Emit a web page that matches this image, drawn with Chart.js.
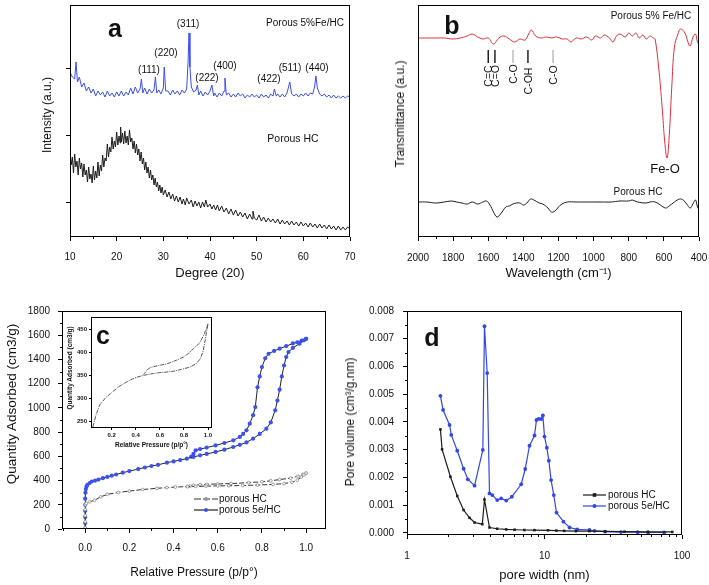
<!DOCTYPE html>
<html>
<head>
<meta charset="utf-8">
<script src="https://cdn.jsdelivr.net/npm/chart.js@4.4.1/dist/chart.umd.min.js"></script>
<style>
  body { margin: 0; background: #fff; width: 709px; height: 585px; position: relative; overflow: hidden;
         font-family: "Liberation Sans", Arial, sans-serif; color: #111; }
  canvas { position: absolute; }
  .t { position: absolute; transform: translate(-50%, -50%); white-space: nowrap; line-height: 1; font-size: 10px; }
  .r { transform: translate(-50%, -50%) rotate(-90deg); }
  .l { transform: translate(0, -50%); }
  .big { font-size: 25px; font-weight: bold; }
</style>
</head>
<body>
<canvas id="ca" style="left:0;top:0" width="360" height="290"></canvas>
<canvas id="cb" style="left:360px;top:0" width="349" height="290"></canvas>
<canvas id="cc" style="left:0;top:290px" width="355" height="295"></canvas>
<canvas id="cd" style="left:355px;top:290px" width="354" height="295"></canvas>
<canvas id="ci" style="left:65px;top:312px" width="152" height="140"></canvas>

<!-- panel a -->
<div class="t big" style="left:115px;top:28px">a</div>
<div class="t" style="left:305px;top:23px">Porous 5%Fe/HC</div>
<div class="t" style="left:188px;top:24px">(311)</div>
<div class="t" style="left:166px;top:53px">(220)</div>
<div class="t" style="left:149px;top:70px">(111)</div>
<div class="t" style="left:207px;top:78px">(222)</div>
<div class="t" style="left:225px;top:66px">(400)</div>
<div class="t" style="left:269px;top:79px">(422)</div>
<div class="t" style="left:290px;top:68px">(511)</div>
<div class="t" style="left:317px;top:68px">(440)</div>
<div class="t" style="left:293px;top:138px;font-size:10.5px">Porous HC</div>
<div class="t r" style="left:47px;top:115px;font-size:12px">Intensity (a.u.)</div>

<!-- panel b -->
<div class="t big" style="left:452px;top:25px">b</div>
<div class="t" style="left:651px;top:16px">Porous 5% Fe/HC</div>
<div class="t" style="left:665px;top:168px;font-size:13px">Fe-O</div>
<div class="t" style="left:638px;top:192px">Porous HC</div>
<div class="t r" style="left:488px;top:76px;font-size:10.5px">C=C</div>
<div class="t r" style="left:495px;top:76px;font-size:10.5px">C=O</div>
<div class="t r" style="left:513px;top:74px;font-size:10.5px">C-O</div>
<div class="t r" style="left:528px;top:81px;font-size:10.5px">C-OH</div>
<div class="t r" style="left:553px;top:75px;font-size:10.5px">C-O</div>
<div class="t r" style="left:400px;top:114px;font-size:12px">Transmittance (a.u.)</div>

<!-- panel c -->
<div class="t big" style="left:103px;top:335px">c</div>
<div class="t r" style="left:12px;top:404px;font-size:13.5px">Quantity Adsorbed (cm3/g)</div>
<div class="t r" style="left:70px;top:368px;font-size:6.5px;font-weight:bold">Quantity Adsorbed (cm3/g)</div>
<div class="t l" style="left:219px;top:499px">porous HC</div>
<div class="t l" style="left:219px;top:510px">porous 5e/HC</div>

<!-- panel d -->
<div class="t big" style="left:432px;top:337px">d</div>
<div class="t r" style="left:350px;top:422px;font-size:12px">Pore volume (cm³/g.nm)</div>
<div class="t l" style="left:608px;top:495px">porous HC</div>
<div class="t l" style="left:608px;top:506px">porous 5e/HC</div>

<script>
// ---------- data ----------
// (a) XRD, [2theta, intensity a.u.]
const xrdFeHC = [[10,165],[10.5,160],[11,158],[11.3,175],[11.6,155],[12,160],[12.5,150],[13,154],[13.5,146],[14,150],
  [14.5,144],[15,148],[15.5,141],[16,146],[16.5,142],[17,145],[17.5,140],[18,146],[18.5,141],[19,144],[19.5,140],
  [20,145],[20.5,141],[21,146],[21.5,141],[22,145],[22.5,142],[23,149],[23.5,143],[24,150],[24.5,144],[25,148],
  [25.3,158],[25.6,144],[26,149],[26.5,143],[27,148],[27.5,144],[28,147],[28.3,160],[28.6,144],[29,147],[29.5,143],
  [30,149],[30.2,170],[30.5,146],[31,146],[31.5,142],[32,147],[32.5,143],[33,146],[33.5,142],[34,147],[34.5,144],
  [35,148],[35.3,175],[35.5,204],[35.7,170],[36,150],[36.5,145],[37,147],[37.3,152],[37.6,142],[38,146],[38.5,141],
  [39,145],[39.5,142],[40,146],[40.4,152],[40.8,141],[41,144],[41.5,140],[42,144],[42.5,141],[43,146],[43.2,159],
  [43.5,142],[44,144],[44.5,140],[45,143],[45.5,140],[46,144],[46.5,141],[47,143],[47.5,139],[48,142],[48.5,140],
  [49,143],[49.5,140],[50,142],[50.5,139],[51,143],[51.5,140],[52,142],[52.5,139],[53,143],[53.5,141],[53.8,148],
  [54.2,141],[54.5,143],[55,140],[55.5,143],[56,140],[56.5,144],[57.1,155],[57.5,143],[58,141],[58.5,143],[59,140],
  [59.5,143],[60,141],[60.5,144],[61,141],[61.5,144],[62,143],[62.4,150],[62.7,161],[63,149],[63.5,143],[64,141],
  [64.5,143],[65,140],[65.5,142],[66,139],[66.5,142],[67,139],[67.5,141],[68,139],[68.5,141],[69,139],[69.5,141],[70,140]];
const xrdHC = [[10,85],[10.25,72],[10.5,80],[10.75,64],[11,83],[11.25,70],[11.5,76],[11.75,62],[12,79],[12.25,68],
  [12.5,74],[12.75,60],[13,73],[13.25,62],[13.5,67],[13.75,55],[14,70],[14.25,58],[14.5,63],[14.75,54],[15,71],
  [15.25,57],[15.5,66],[15.75,59],[16,75],[16.25,61],[16.5,72],[16.75,66],[17,82],[17.25,70],[17.5,79],[17.75,76],
  [18,93],[18.25,80],[18.5,90],[18.75,85],[19,100],[19.25,88],[19.5,96],[19.75,90],[20,105],[20.25,92],[20.5,101],
  [20.75,94],[20.85,110],[21,95],[21.25,104],[21.5,93],[21.75,106],[22,94],[22.25,101],[22.5,92],[22.75,107],[23,95],
  [23.25,99],[23.5,88],[23.75,96],[24,84],[24.25,93],[24.5,82],[24.75,88],[25,76],[25.25,85],[25.5,73],[25.75,79],
  [26,67],[26.25,75],[26.5,64],[26.75,70],[27,59],[27.25,67],[27.5,57],[27.75,62],[28,52],[28.25,59],[28.5,50],
  [28.75,55],[29,46],[29.25,52],[29.5,44],[29.75,50],[30,42],[30.4,47],[30.8,40],[31.2,45],[31.6,38],[32,43],
  [32.4,36],[32.8,41],[33.2,35],[33.6,40],[34,33],[34.3,38],[34.7,32],[35,39],[35.5,33],[36,37],[36.4,30],[36.8,36],
  [37.2,31],[37.6,35],[38,29],[38.4,35],[38.8,30],[39.1,37],[39.5,30],[40,33],[40.4,28],[40.8,32],[41.2,27],[41.6,32],
  [42,26],[42.5,31],[43,25],[43.5,29],[44,23],[44.5,28],[45,22],[45.5,27],[46,21],[46.5,25],[47,20],[47.5,24],[48,18],
  [48.5,23],[49,18],[49.2,26],[49.5,19],[50,17],[50.5,22],[51,16],[51.5,20],[52,15],[52.5,19],[53,15],[53.5,18],
  [54,14],[54.5,18],[55,13],[55.5,17],[56,13],[56.5,16],[57,12],[57.5,16],[58,12],[58.5,15],[59,11],[59.5,15],
  [60,11],[60.5,14],[61,10],[61.5,14],[62,10],[62.5,13],[63,9],[63.5,13],[64,9],[64.5,12],[65,8],[65.5,12],[66,8],
  [66.5,11],[67,7],[67.5,11],[68,7],[68.5,10],[69,7],[69.5,10],[70,8]];
const xrdTicks = [10, 20, 30, 40, 50, 60, 70];
const xrdMinor = [15, 25, 35, 45, 55, 65];
const xrdLevelTicks = [35, 102, 169];

// (b) FTIR, [wavenumber, transmittance a.u.]
const ftirFeHC = [[2000,199],[1950,199],[1900,199],[1850,199],[1800,198],[1760,199],[1720,201],[1690,203],[1660,200],
  [1630,198],[1600,199],[1570,193],[1540,199],[1510,201],[1480,198],[1450,195],[1420,198],[1390,197],[1370,203],
  [1355,207],[1330,201],[1300,199],[1270,200],[1240,199],[1210,200],[1180,198],[1150,198],[1130,195],[1100,199],
  [1070,198],[1040,200],[1010,197],[990,201],[960,199],[940,202],[910,199],[890,195],[870,201],[850,203],[820,200],
  [800,204],[780,201],[760,204],[740,199],[720,202],[700,198],[680,201],[660,199],[650,198],[630,170],[610,130],
  [595,95],[582,79],[570,100],[555,150],[540,190],[520,203],[505,208],[480,204],[465,196],[451,191],[434,200],
  [420,203],[410,196],[400,192]];
const ftirHC = [[2000,35],[1950,35],[1900,34],[1850,35],[1810,36],[1780,35],[1750,34],[1720,33],[1690,35],[1660,33],
  [1630,35],[1610,36],[1590,32],[1570,25],[1550,20],[1530,23],[1500,30],[1480,31],[1460,33],[1440,34],[1420,34],
  [1400,32],[1380,34],[1360,38],[1340,37],[1310,34],[1290,33],[1260,29],[1240,25],[1220,26],[1200,30],[1180,33],
  [1150,35],[1100,35],[1050,35],[1000,35],[950,35],[900,35],[850,36],[800,36],[780,37],[750,35],[700,34],[680,35],
  [650,35],[620,32],[590,29],[570,31],[540,35],[510,38],[490,37],[470,33],[450,29],[435,33],[420,37],[410,31],[400,27]];
const ftirTicks = [2000, 1800, 1600, 1400, 1200, 1000, 800, 600, 400];
const ftirMinor = [1900, 1700, 1500, 1300, 1100, 900, 700, 500];
const bandPos = [1600, 1562, 1459, 1374, 1231];
const bandShade = ['#222', '#222', '#bbb', '#222', '#bbb'];

// (c) N2 isotherms, [p/p0, quantity cm3/g]
const isoHCads = [[0,10],[0,60],[0,110],[0,160],[0.001,200],[0.005,212],[0.02,225],[0.042,237],[0.07,265],[0.1,286],
  [0.15,302],[0.2,313],[0.26,326],[0.325,336],[0.37,342],[0.408,346],[0.463,350],[0.5,352],[0.547,354],[0.6,356],
  [0.65,357],[0.713,359],[0.78,363],[0.85,368],[0.9,375],[0.936,386],[0.96,403],[0.978,429],[0.99,447],[1.0,461]];
const isoHCdes = [[1.0,461],[0.985,450],[0.963,436],[0.93,420],[0.88,408],[0.84,398],[0.8,390],[0.74,383],[0.66,375],
  [0.6,372],[0.55,369],[0.52,367],[0.49,361],[0.475,355],[0.463,352]];
const isoFeAds = [[0,0],[0,50],[0,100],[0,150],[0,200],[0,250],[0.001,300],[0.003,330],[0.006,350],[0.01,365],
  [0.02,380],[0.03,392],[0.045,400],[0.06,408],[0.08,420],[0.1,430],[0.12,440],[0.14,450],[0.17,465],[0.2,478],
  [0.24,495],[0.27,508],[0.3,520],[0.33,530],[0.37,548],[0.4,558],[0.43,569],[0.46,581],[0.49,595],[0.52,608],
  [0.55,620],[0.59,636],[0.63,655],[0.67,677],[0.7,695],[0.73,715],[0.76,746],[0.79,785],[0.82,828],[0.84,880],
  [0.86,980],[0.87,1060],[0.88,1150],[0.89,1260],[0.9,1350],[0.91,1420],[0.92,1461],[0.94,1495],[0.97,1530],
  [0.99,1558],[1.0,1570]];
const isoFeDes = [[1.0,1571],[0.98,1556],[0.96,1542],[0.94,1532],[0.91,1510],[0.88,1489],[0.855,1470],[0.83,1447],
  [0.815,1410],[0.8,1337],[0.79,1260],[0.78,1170],[0.77,1007],[0.76,940],[0.745,870],[0.73,815],[0.715,785],
  [0.7,760],[0.67,732],[0.63,710],[0.59,690],[0.55,672],[0.52,660],[0.5,650],[0.49,620],[0.48,598]];
const presTicks = [0, 0.2, 0.4, 0.6, 0.8, 1.0];
const presMinor = [-0.1, 0.1, 0.3, 0.5, 0.7, 0.9];
const qTicks = [0, 200, 400, 600, 800, 1000, 1200, 1400, 1600, 1800];
const qMinor = [100, 300, 500, 700, 900, 1100, 1300, 1500, 1700];
const insetPTicks = [0.2, 0.4, 0.6, 0.8, 1.0];
const insetQTicks = [250, 300, 350, 400, 450];

// (d) pore size distribution, [pore width nm, pore volume cm3/g.nm]
const psdHC = [[1.75,0.00373],[1.80,0.00301],[2.07,0.00202],[2.32,0.00133],[2.58,0.00082],[2.85,0.00054],[3.10,0.00037],
  [3.53,0.00031],[3.66,0.00120],[3.98,0.00019],[4.53,0.000145],[5.27,0.00012],[6.06,0.00011],[7.14,0.00010],
  [8.46,0.000095],[10.6,0.00009],[12.2,0.00008],[13.9,0.00007],[16.9,0.00006],[21.2,0.00006],[27.6,0.00005],
  [38.2,0.00004],[56.3,0.00003],[85.0,0.00003]];
const psdFeHC = [[1.75,0.00494],[1.83,0.00443],[2.04,0.00389],[2.10,0.00353],[2.32,0.00296],[2.58,0.00231],
  [2.77,0.00193],[3.10,0.00170],[3.56,0.00299],[3.66,0.00745],[3.83,0.00576],[3.98,0.00142],[4.17,0.00136],
  [4.53,0.00118],[4.84,0.00124],[5.27,0.00116],[5.79,0.00130],[6.77,0.00175],[7.24,0.00230],[7.78,0.00314],
  [8.46,0.00351],[8.74,0.00407],[9.09,0.00411],[9.46,0.00410],[9.73,0.00423],[10.0,0.00347],[10.4,0.00307],
  [10.75,0.00260],[11.17,0.00190],[11.68,0.00136],[12.22,0.00073],[13.74,0.00040],[15.2,0.00019],[17.3,0.00012],
  [21.2,0.00010],[23.1,0.00007],[27.6,0.00004],[36.0,0.000025],[47.6,0.00002],[56.9,0.00001],[74.2,0.00001]];
const widthTicks = [1, 10, 100];
const widthMinor = [2, 3, 4, 5, 6, 7, 8, 9, 20, 30, 40, 50, 60, 70, 80, 90];
const volTicks = [0, 0.001, 0.002, 0.003, 0.004, 0.005, 0.006, 0.007, 0.008];
const volMinor = [0.0005, 0.0015, 0.0025, 0.0035, 0.0045, 0.0055, 0.0065, 0.0075];

// ---------- helpers ----------
const FONT = '"Liberation Sans", Arial, sans-serif';
const pts = arr => arr.map(([x, y]) => ({ x, y }));

// box around the plot and the small ticks between the labelled ones
const frame = {
  id: 'frame',
  afterDraw(chart, args, o) {
    const { ctx, chartArea: a, scales } = chart;
    const L = Math.round(a.left) + 0.5, R = Math.round(a.right) - 0.5;
    const T = Math.round(a.top) + 0.5, B = Math.round(a.bottom) - 0.5;
    ctx.save();
    ctx.strokeStyle = '#000';
    ctx.lineWidth = 1;
    ctx.strokeRect(L, T, R - L, B - T);
    const len = o.len || 2.5;
    (o.xMinor || []).forEach(v => {
      const px = Math.round(scales.x.getPixelForValue(v)) + 0.5;
      ctx.beginPath(); ctx.moveTo(px, B); ctx.lineTo(px, B + len); ctx.stroke();
    });
    (o.yMinor || []).forEach(v => {
      const py = Math.round(scales.y.getPixelForValue(v)) + 0.5;
      ctx.beginPath(); ctx.moveTo(L, py); ctx.lineTo(L - len, py); ctx.stroke();
    });
    ctx.restore();
  }
};

// legend symbols drawn next to the html legend text
const keys = {
  id: 'keys',
  afterDraw(chart, args, o) {
    const ctx = chart.ctx;
    (o.items || []).forEach(k => {
      ctx.save();
      ctx.strokeStyle = k.line; ctx.lineWidth = 1.2;
      ctx.setLineDash(k.dash || []);
      ctx.beginPath(); ctx.moveTo(k.x1, k.y); ctx.lineTo(k.x2, k.y); ctx.stroke();
      ctx.setLineDash([]);
      const cx = (k.x1 + k.x2) / 2;
      ctx.fillStyle = k.dot; ctx.strokeStyle = k.dot;
      if (k.square) ctx.fillRect(cx - 1.8, k.y - 1.8, 3.6, 3.6);
      else { ctx.beginPath(); ctx.arc(cx, k.y, 2, 0, Math.PI * 2); ctx.fill(); }
      ctx.restore();
    });
  }
};

// marker lines for the IR bands
const bands = {
  id: 'bands',
  afterDraw(chart, args, o) {
    const ctx = chart.ctx;
    ctx.save();
    ctx.lineWidth = 1.5;
    bandPos.forEach((v, i) => {
      const px = chart.scales.x.getPixelForValue(v);
      ctx.strokeStyle = bandShade[i];
      ctx.beginPath(); ctx.moveTo(px, 50); ctx.lineTo(px, 63); ctx.stroke();
    });
    ctx.restore();
  }
};

function axis(o) {
  return {
    type: o.type || 'linear',
    min: o.min, max: o.max, reverse: !!o.reverse,
    afterBuildTicks: s => { s.ticks = (o.ticks || []).map(v => ({ value: v })); },
    afterFit: s => {
      if (o.w !== undefined) s.width = o.w;
      if (o.h !== undefined) s.height = o.h;
      // keep edge labels from pushing the plot area inwards
      s.paddingLeft = s.paddingRight = s.paddingTop = s.paddingBottom = 0;
    },
    grid: { display: o.tl > 0, drawOnChartArea: false, drawTicks: true, tickLength: o.tl || 0, color: '#000', lineWidth: 1 },
    border: { display: false },
    ticks: {
      display: true, autoSkip: false, maxRotation: 0, color: '#111', padding: o.pad || 0,
      font: { family: FONT, size: o.fs || 10, weight: o.bold ? 'bold' : 'normal' },
      callback: o.fmt || (() => '')
    },
    title: o.title ? {
      display: true, text: o.title, color: '#111',
      font: { family: FONT, size: o.tfs || 13, weight: o.bold ? 'bold' : 'normal' },
      padding: { top: 0, bottom: o.tpad || 0 }
    } : { display: false }
  };
}

function base(padding, scales, plugins) {
  return {
    responsive: false, animation: false, events: [],
    layout: { padding },
    scales,
    plugins: Object.assign({ legend: { display: false }, tooltip: { enabled: false } }, plugins)
  };
}

function line(data, color, extra) {
  return Object.assign({ data: pts(data), borderColor: color, borderWidth: 1, pointRadius: 0, tension: 0, fill: false }, extra);
}

// ---------- (a) XRD ----------
new Chart(document.getElementById('ca'), {
  type: 'line',
  data: { datasets: [
    line(xrdFeHC, '#3b4ef2'),
    line(xrdHC, '#1c1c1c')
  ] },
  options: base({ top: 5, right: 10, left: 0, bottom: 0 }, {
    x: axis({ min: 10, max: 70, ticks: xrdTicks, h: 53, tl: 4, pad: 10, fmt: v => v, title: 'Degree (20)', tfs: 13, tpad: 9 }),
    y: axis({ min: 0, max: 232, ticks: xrdLevelTicks, w: 70, tl: 4 })
  }, { frame: { xMinor: xrdMinor } }),
  plugins: [frame]
});

// ---------- (b) FTIR ----------
new Chart(document.getElementById('cb'), {
  type: 'line',
  data: { datasets: [
    line(ftirFeHC, '#e0303c', { tension: 0.4 }),
    line(ftirHC, '#1c1c1c', { tension: 0.4 })
  ] },
  options: base({ top: 5, right: 10, left: 0, bottom: 0 }, {
    x: axis({ min: 400, max: 2000, reverse: true, ticks: ftirTicks, h: 53, tl: 4, pad: 11, fmt: v => v,
              title: 'Wavelength (cm⁻¹)', tfs: 13, tpad: 9 }),
    y: axis({ min: 0, max: 232, ticks: [], w: 58, tl: 0 })
  }, { frame: { xMinor: ftirMinor } }),
  plugins: [frame, bands]
});

// ---------- (c) isotherms ----------
const hcStyle = { borderColor: '#333', borderDash: [5, 2], pointRadius: 1.4, pointBackgroundColor: '#fff', pointBorderColor: '#888', pointBorderWidth: 0.8 };
const feStyle = { borderColor: '#222', pointRadius: 2.1, pointBackgroundColor: '#3d50f0', pointBorderColor: '#3d50f0', pointBorderWidth: 0 };
new Chart(document.getElementById('cc'), {
  type: 'line',
  data: { datasets: [
    line(isoHCads, '#333', hcStyle),
    line(isoHCdes, '#333', hcStyle),
    line(isoFeAds, '#222', feStyle),
    line(isoFeDes, '#222', feStyle)
  ] },
  options: base({ top: 21, right: 29, left: 0, bottom: 0 }, {
    x: axis({ min: -0.105, max: 1.09, ticks: presTicks, h: 56, tl: 4, pad: 9, fmt: v => v.toFixed(1),
              title: 'Relative Pressure (p/p°)', tfs: 12, tpad: 5 }),
    y: axis({ min: 0, max: 1800, ticks: qTicks, w: 62, tl: 4, pad: 8, fmt: v => v })
  }, {
    frame: { xMinor: presMinor, yMinor: qMinor },
    keys: { items: [
      { x1: 194, x2: 218, y: 209, line: '#333', dash: [7, 2], dot: '#999' },
      { x1: 194, x2: 218, y: 220, line: '#222', dot: '#3d50f0' }
    ] }
  }),
  plugins: [frame, keys]
});

// inset of (c): porous HC close-up
new Chart(document.getElementById('ci'), {
  type: 'line',
  data: { datasets: [
    line(isoHCads, '#555', { borderDash: [4, 1, 1, 1] }),
    line(isoHCdes, '#555', { borderDash: [4, 1, 1, 1] })
  ] },
  options: base({ top: 5, right: 5, left: 0, bottom: 0 }, {
    x: axis({ min: 0.028, max: 1.033, ticks: insetPTicks, h: 24, tl: 2, pad: 2, fs: 6, bold: true, fmt: v => v.toFixed(1),
              title: 'Relative Pressure (p/p°)', tfs: 6.5, tpad: 3 }),
    y: axis({ min: 236.5, max: 476, ticks: insetQTicks, w: 26, tl: 2, pad: 2, fs: 6, bold: true, fmt: v => v })
  }, { frame: { len: 0 } }),
  plugins: [frame]
});

// ---------- (d) pore size distribution ----------
new Chart(document.getElementById('cd'), {
  type: 'line',
  data: { datasets: [
    line(psdHC, '#1c1c1c', { borderWidth: 1.2, pointRadius: 1.8, pointStyle: 'rect', pointBackgroundColor: '#1c1c1c', pointBorderWidth: 0 }),
    line(psdFeHC, '#3347e8', { borderWidth: 1.2, pointRadius: 1.9, pointBackgroundColor: '#3347e8', pointBorderWidth: 0 })
  ] },
  options: base({ top: 21, right: 27, left: 0, bottom: 0 }, {
    x: axis({ type: 'logarithmic', min: 1, max: 100, ticks: widthTicks, h: 50, tl: 4, pad: 11, fmt: v => String(v),
              title: 'pore width (nm)', tfs: 13, tpad: 2 }),
    y: axis({ min: -0.00008, max: 0.008, ticks: volTicks, w: 52, tl: 4, pad: 9, fmt: v => v.toFixed(3) })
  }, {
    frame: { xMinor: widthMinor, yMinor: volMinor },
    keys: { items: [
      { x1: 228, x2: 251, y: 205, line: '#1c1c1c', dot: '#1c1c1c', square: true },
      { x1: 228, x2: 251, y: 216, line: '#3347e8', dot: '#3347e8' }
    ] }
  }),
  plugins: [frame, keys]
});
</script>
</body>
</html>
